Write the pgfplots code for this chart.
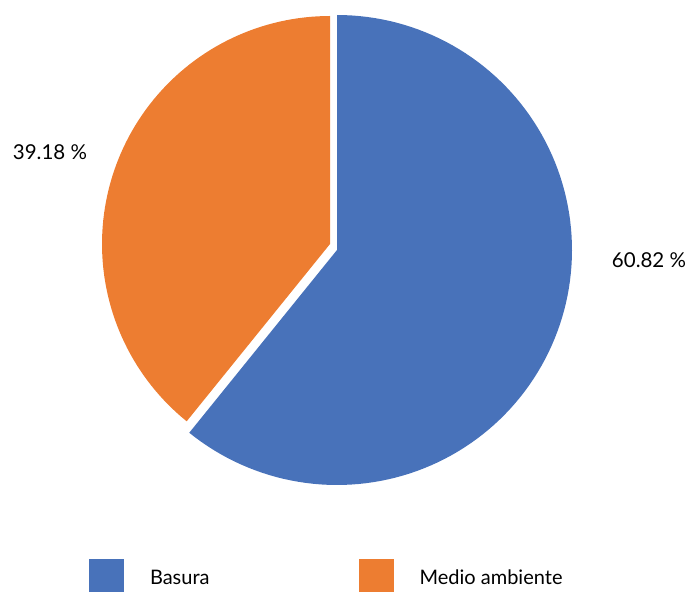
\documentclass[border=0pt]{standalone}
\usepackage{pgfplots}
\pgfplotsset{compat=1.18}
\usepackage{fontspec}
\setmainfont{Lato}
\definecolor{cblue}{HTML}{4872BA}
\definecolor{corange}{HTML}{ED7D31}
% data (percent)
\def\valA{60.82}% Basura
\def\valB{39.18}% Medio ambiente
\pgfmathsetmacro\angA{90-3.6*\valA}
\pgfmathsetmacro\angB{90+3.6*\valB}
\begin{document}
\begin{tikzpicture}
\begin{axis}[
  name=pie,
  scale only axis, width=690pt, height=592pt,
  xmin=0, xmax=690, ymin=0, ymax=592,
  hide axis, clip=false,
  legend columns=2,
  legend image code/.code={\fill[#1] (0pt,-14pt) rectangle (35pt,19pt);},
  legend style={draw=none, fill=none, inner sep=0pt, outer sep=0pt,
    nodes={inner sep=0pt, outer sep=0pt},
    font=\fontsize{20}{24}\selectfont,
    at={(axis cs:89,0)}, anchor=south west,
    /tikz/column 1/.style={column sep=26pt},
    /tikz/column 2/.style={column sep=149pt},
    /tikz/column 3/.style={column sep=26pt}},
]
\addplot[fill=cblue, draw=none, domain=\angA:90, samples=120]
  ({337+235*cos(x)},{342+235*sin(x)}) -- (axis cs:337,342) -- cycle;
\addlegendentry{Basura}
\addplot[fill=corange, draw=none, domain=90:\angB, samples=90]
  ({330+228*cos(x)},{348+228*sin(x)}) -- (axis cs:330,348) -- cycle;
\addlegendentry{Medio ambiente}
\node[font=\fontsize{20.5}{24}\selectfont] at (axis cs:649,332) {60.82 \%};
\node[font=\fontsize{20.5}{24}\selectfont] at (axis cs:50,440) {39.18 \%};
\end{axis}
\pgfresetboundingbox
\path[use as bounding box] (pie.south west) rectangle (pie.north east);
\end{tikzpicture}
\end{document}
